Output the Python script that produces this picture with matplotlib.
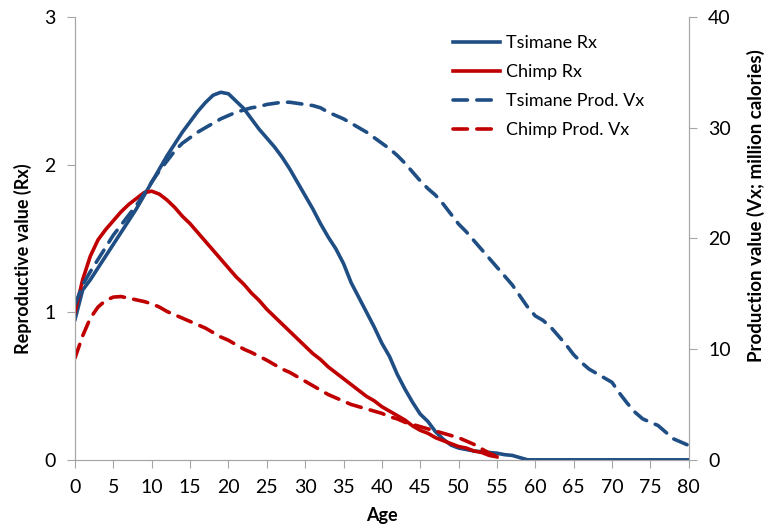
import matplotlib.pyplot as plt

plt.rcParams['font.family'] = ['Lato', 'DejaVu Sans']

ages_rx = list(range(0, 81))
tsimane_rx = [0.95, 1.15, 1.22, 1.30, 1.38, 1.46, 1.54, 1.62, 1.70, 1.79,
              1.88, 1.97, 2.06, 2.14, 2.22, 2.29, 2.36, 2.42, 2.47, 2.49,
              2.48, 2.43, 2.38, 2.31, 2.24, 2.18, 2.12, 2.05, 1.97, 1.88,
              1.79, 1.70, 1.60, 1.51, 1.43, 1.33, 1.20, 1.10, 1.00, 0.90,
              0.79, 0.70, 0.58, 0.48, 0.39, 0.31, 0.26, 0.19, 0.14, 0.10,
              0.08, 0.07, 0.06, 0.055, 0.05, 0.045, 0.035, 0.03, 0.015, 0.0,
              0, 0, 0, 0, 0, 0, 0, 0, 0, 0,
              0, 0, 0, 0, 0, 0, 0, 0, 0, 0, 0]

ages_chimp = list(range(0, 56))
chimp_rx = [1.00, 1.22, 1.38, 1.49, 1.56, 1.62, 1.68, 1.73, 1.77, 1.81,
            1.82, 1.80, 1.76, 1.71, 1.65, 1.60, 1.54, 1.48, 1.42, 1.36,
            1.30, 1.24, 1.19, 1.13, 1.08, 1.02, 0.97, 0.92, 0.87, 0.82,
            0.77, 0.72, 0.68, 0.63, 0.59, 0.55, 0.51, 0.47, 0.43, 0.40,
            0.36, 0.33, 0.30, 0.27, 0.23, 0.20, 0.18, 0.15, 0.13, 0.11,
            0.09, 0.08, 0.06, 0.05, 0.03, 0.02]

tsimane_vx = [14.0, 15.8, 17.0, 18.1, 19.2, 20.3, 21.2, 22.1, 23.0, 24.0,
              25.1, 26.1, 27.0, 27.9, 28.6, 29.1, 29.6, 30.0, 30.4, 30.8,
              31.1, 31.4, 31.6, 31.8, 31.9, 32.1, 32.2, 32.3, 32.3, 32.2,
              32.1, 32.0, 31.8, 31.4, 31.1, 30.8, 30.4, 30.0, 29.6, 29.1,
              28.6, 28.1, 27.5, 26.8, 26.0, 25.2, 24.5, 23.9, 23.1, 22.2,
              21.3, 20.6, 19.8, 19.0, 18.2, 17.4, 16.6, 15.8, 14.8, 13.8,
              13.0, 12.6, 12.0, 11.2, 10.4, 9.5, 8.8, 8.2, 7.8, 7.4,
              7.0, 6.0, 5.1, 4.3, 3.7, 3.4, 3.1, 2.5, 1.9, 1.6, 1.3]

chimp_vx = [9.2, 11.2, 12.8, 13.8, 14.4, 14.7, 14.75, 14.6, 14.45, 14.3,
            14.1, 13.8, 13.4, 13.1, 12.8, 12.5, 12.2, 11.9, 11.5, 11.1,
            10.8, 10.4, 10.0, 9.7, 9.35, 9.0, 8.6, 8.2, 7.9, 7.5,
            7.1, 6.7, 6.3, 5.9, 5.6, 5.3, 5.0, 4.8, 4.6, 4.4,
            4.2, 3.9, 3.7, 3.4, 3.2, 3.0, 2.8, 2.6, 2.4, 2.2,
            2.0, 1.7, 1.4, 1.0, 0.6, 0.3]

blue = '#1f4e84'
red = '#c00000'
grey = '#a6a6a6'
lw = 2.6
dash = (4, 2.6)

fig = plt.figure(figsize=(7.73, 5.31), dpi=100)
ax = fig.add_axes([0.097, 0.134, 0.794, 0.834])
ax2 = ax.twinx()

l1, = ax.plot(ages_rx, tsimane_rx, color=blue, lw=lw, label='Tsimane Rx', zorder=3)
l2, = ax.plot(ages_chimp, chimp_rx, color=red, lw=lw, label='Chimp Rx', zorder=3)
l3, = ax2.plot(ages_rx, tsimane_vx, color=blue, lw=lw, dashes=dash,
               dash_capstyle='round', label='Tsimane Prod. Vx')
l4, = ax2.plot(ages_chimp, chimp_vx, color=red, lw=lw, dashes=dash,
               dash_capstyle='round', label='Chimp Prod. Vx')

ax.set_xlim(0, 80)
ax.set_ylim(0, 3)
ax2.set_ylim(0, 40)
ax.set_xticks(range(0, 81, 5))
ax.set_yticks([0, 1, 2, 3])
ax2.set_yticks([0, 10, 20, 30, 40])

for a in (ax, ax2):
    a.spines['top'].set_visible(False)
    for s in ('left', 'right', 'bottom'):
        a.spines[s].set_color(grey)
    a.tick_params(colors=grey, labelcolor='black', labelsize=14, length=6,
                  direction='out', pad=8)

ax.set_xlabel('Age', fontsize=13, fontweight='bold', labelpad=8)
ax.set_ylabel('Reproductive value (Rx)', fontsize=13, fontweight='bold')
ax.yaxis.set_label_coords(-0.07, 0.455)
ax2.set_ylabel('Production value (Vx; million calories)', fontsize=13.5,
               fontweight='bold', rotation=90)
ax2.yaxis.set_label_coords(1.095, 0.575)

ax2.legend(handles=[l1, l2, l3, l4], loc='upper left', bbox_to_anchor=(0.59, 0.995),
           frameon=False, fontsize=13, handlelength=2.6, labelspacing=0.72, handletextpad=0.3)

fig.savefig('out.png', dpi=100)
